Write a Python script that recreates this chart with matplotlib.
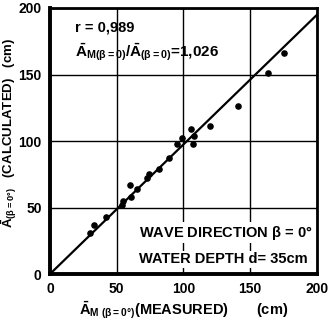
import matplotlib
matplotlib.use("Agg")
import matplotlib.pyplot as plt

plt.rcParams['font.family'] = ['Liberation Sans', 'DejaVu Sans']
plt.rcParams['mathtext.fontset'] = 'custom'
plt.rcParams['mathtext.rm'] = 'Liberation Sans:bold'
plt.rcParams['mathtext.it'] = 'Liberation Sans:bold'
plt.rcParams['mathtext.bf'] = 'Liberation Sans:bold'

measured = [30, 33, 42, 54, 55, 61, 60, 65, 73, 74, 82, 89, 95, 99, 106, 107, 108, 120, 141, 163, 175]
calculated = [31, 37, 43, 52, 55, 58, 67, 64, 72, 75, 79, 87, 98, 102, 109, 98, 104, 111, 126, 151, 166]
ratio = 1.026
r_value = "0,989"
line_x = [0, 200]
ticks = [0, 50, 100, 150, 200]

fig = plt.figure(figsize=(3.33, 3.33), dpi=100)
ax = fig.add_axes([0.150, 0.177, 0.802, 0.799])

ax.set_xlim(0, 200)
ax.set_ylim(0, 200)
ax.set_xticks(ticks)
ax.set_yticks(ticks)
ax.set_xticklabels([str(t) for t in ticks], fontsize=10, fontweight='bold')
ax.set_yticklabels([str(t) for t in ticks], fontsize=10, fontweight='bold')
ax.tick_params(length=0, pad=6)
ax.grid(True, color='black', linewidth=1.0)
ax.set_axisbelow(True)
for s in ax.spines.values():
    s.set_linewidth(2)
ax.spines['left'].set_linewidth(2.8)
ax.spines['bottom'].set_linewidth(2.8)

ax.plot(line_x, [v / ratio for v in line_x], color='black', linewidth=1.6, zorder=3)
ax.scatter(measured, calculated, s=14, color='black', zorder=4)

ax.text(19, 185, 'r = ' + r_value, fontsize=10.5, fontweight='bold', va='center')
ax.text(19, 167, r'$\bar{A}_{M(\beta=0)}/\bar{A}_{(\beta=0)}$=' + f'{ratio:.3f}'.replace('.', ','),
        fontsize=11, fontweight='bold', va='center')

ax.text(67, 31, r'WAVE DIRECTION $\beta$ = 0°', fontsize=10.5, fontweight='bold', va='center',
        bbox=dict(facecolor='white', edgecolor='none', pad=1))
ax.text(67, 11, 'WATER DEPTH d= 35cm', fontsize=10.5, fontweight='bold', va='center',
        bbox=dict(facecolor='white', edgecolor='none', pad=1))

ax.set_xlabel(r'$\bar{A}_{M\ (\beta=0°)}$(MEASURED)       (cm)', fontsize=10.5, fontweight='bold', labelpad=2)
ax.set_ylabel(r'$\bar{A}_{(\beta=0°)}$   (CALCULATED)   (cm)', fontsize=9.5, fontweight='bold')
ax.yaxis.set_label_coords(-0.115, 0.53)

fig.savefig('out.png', dpi=100)
